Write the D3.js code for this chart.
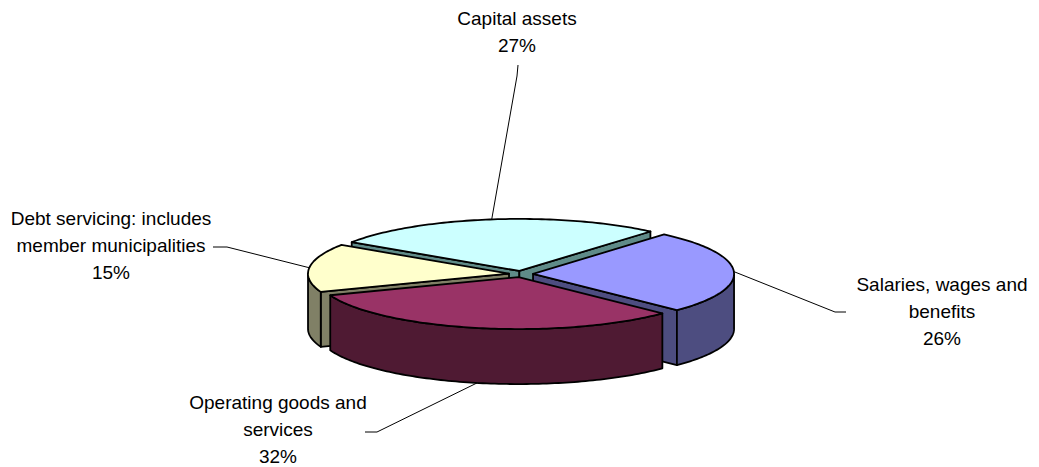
<!DOCTYPE html>
<html>
<head>
<meta charset="utf-8">
<script src="https://cdn.jsdelivr.net/npm/d3@7"></script>
<style>
  html, body { margin: 0; padding: 0; background: #fff; }
  svg { display: block; }
  text { font-family: "Liberation Sans", Arial, sans-serif; font-size: 19px; fill: #000; }
</style>
</head>
<body>
<svg id="chart" width="1039" height="467"></svg>
<script>
// Expenditure shares
const categories = ["Capital assets", "Salaries, wages and benefits", "Operating goods and services", "Debt servicing: includes member municipalities"];
const values = [27, 26, 32, 15];
const labelLines = [
  ["Capital assets"],
  ["Salaries, wages and", "benefits"],
  ["Operating goods and", "services"],
  ["Debt servicing: includes", "member municipalities"]
];
const topColors = ["#CCFFFF", "#9999FF", "#993366", "#FFFFCC"];
const sideColors = ["#5F8B88", "#4D4D80", "#4F1A33", "#808066"];

// Label placement: text centre, first baseline, leader start and elbow
const labelLayout = [
  { x: 517, y: 25, start: [518, 65], elbow: [517, 76] },
  { x: 942, y: 291, start: [846, 312], elbow: [835, 312] },
  { x: 278, y: 409, start: [365, 432], elbow: [377, 432] },
  { x: 111, y: 225, start: [213, 247], elbow: [227, 247] }
];

const svg = d3.select("#chart");

// 3D pie geometry
const cx = 521, cy = 274;   // centre of the top ellipse
const rx = 201, ry = 52;    // ellipse radii
const depth = 55;           // thickness of the pie
const explode = 0.06;       // offset of each slice, fraction of radius
const lineH = 26.8;

const startAngle = -56.5 * Math.PI / 180;
const pie = d3.pie().sort(null).value(d => d)
  .startAngle(startAngle).endAngle(startAngle + 2 * Math.PI);
const arcs = pie(values).map((a, i) => {
  const mid = (a.startAngle + a.endAngle) / 2;
  return {
    ...a, i, mid,
    ox: explode * rx * Math.sin(mid),
    oy: -explode * ry * Math.cos(mid)
  };
});

// projection of a point at angle t, radius fraction r, height h below the top
const proj = (s, t, r, h) => [
  cx + s.ox + rx * r * Math.sin(t),
  cy + s.oy - ry * r * Math.cos(t) + h
];

const rimPts = (s, a0, a1, h) => {
  const n = Math.max(2, Math.ceil(Math.abs(a1 - a0) / 0.02));
  return d3.range(n + 1).map(k => proj(s, a0 + (a1 - a0) * k / n, 1, h));
};

const line = d3.line();

// front-facing portions of the outer wall
function wallRanges(a0, a1) {
  const out = [];
  [[Math.PI / 2, 3 * Math.PI / 2], [-3 * Math.PI / 2, -Math.PI / 2], [5 * Math.PI / 2, 7 * Math.PI / 2]]
    .forEach(([lo, hi]) => {
      const s = Math.max(a0, lo), e = Math.min(a1, hi);
      if (e > s) out.push([s, e]);
    });
  return out;
}

// back-to-front drawing order
const order = arcs.slice().sort((a, b) => (-Math.cos(a.mid)) - (-Math.cos(b.mid)));

const gPie = svg.append("g").attr("class", "pie");
order.forEach(s => {
  const g = gPie.append("g");
  const apexT = proj(s, 0, 0, 0), apexB = proj(s, 0, 0, depth);
  const style = sel => sel.attr("stroke", "#000").attr("stroke-width", 1.8)
    .attr("stroke-linejoin", "round");

  // radial side faces
  if (Math.sin(s.startAngle) < 0) {
    const p = proj(s, s.startAngle, 1, 0), q = proj(s, s.startAngle, 1, depth);
    g.append("path").attr("d", line([apexT, p, q, apexB]) + "Z")
      .attr("fill", sideColors[s.i]).call(style);
  }
  if (Math.sin(s.endAngle) > 0) {
    const p = proj(s, s.endAngle, 1, 0), q = proj(s, s.endAngle, 1, depth);
    g.append("path").attr("d", line([apexT, p, q, apexB]) + "Z")
      .attr("fill", sideColors[s.i]).call(style);
  }
  // outer wall
  wallRanges(s.startAngle, s.endAngle).forEach(([a0, a1]) => {
    const pts = rimPts(s, a0, a1, 0).concat(rimPts(s, a1, a0, depth));
    g.append("path").attr("d", line(pts) + "Z")
      .attr("fill", sideColors[s.i]).call(style);
  });
  // top face
  const topPts = [apexT].concat(rimPts(s, s.startAngle, s.endAngle, 0));
  g.append("path").attr("d", line(topPts) + "Z")
    .attr("fill", topColors[s.i]).call(style);
});

// leader lines
const gLead = svg.append("g").attr("class", "leaders");
arcs.forEach(s => {
  const L = labelLayout[s.i];
  const front = Math.cos(s.mid) < 0;
  const anchor = proj(s, s.mid, 1, front ? depth : 0);
  gLead.append("path")
    .attr("d", line([L.start, L.elbow, anchor]))
    .attr("fill", "none").attr("stroke", "#000").attr("stroke-width", 1);
});

// labels
const gLab = svg.append("g").attr("class", "labels");
arcs.forEach(s => {
  const L = labelLayout[s.i];
  const lines = labelLines[s.i].concat([values[s.i] + "%"]);
  const t = gLab.append("text").attr("text-anchor", "middle");
  lines.forEach((ln, k) => {
    t.append("tspan").attr("x", L.x).attr("y", L.y + k * lineH).text(ln);
  });
});
</script>
</body>
</html>
